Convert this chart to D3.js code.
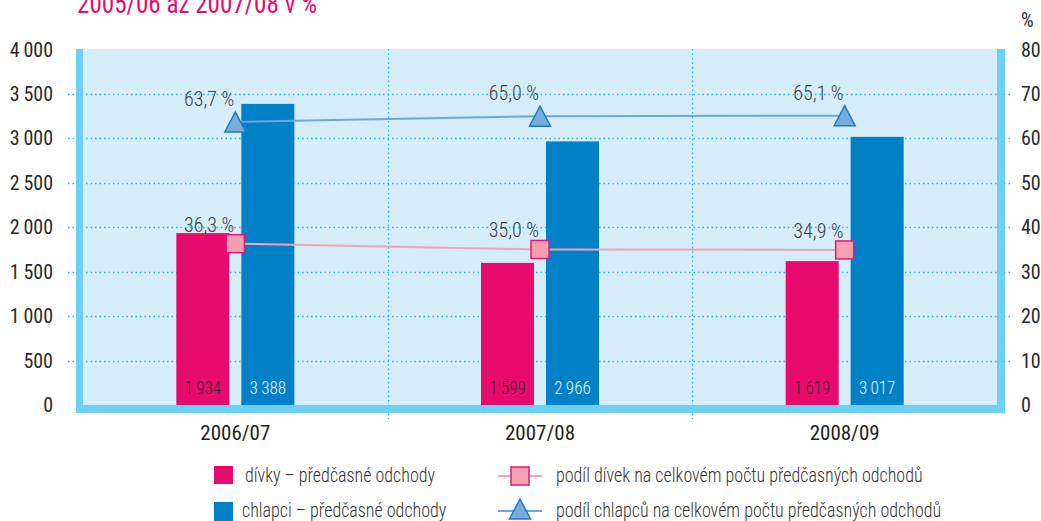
<!DOCTYPE html>
<html><head><meta charset="utf-8">
<script src="https://cdn.jsdelivr.net/npm/d3@7"></script>
<style>
html,body{margin:0;padding:0;background:#fff;}
svg{display:block;}
text{font-family:"Roboto Condensed","Liberation Sans Narrow",sans-serif;}
text.light{font-weight:300;}
</style></head>
<body>
<svg id="chart" width="1041" height="521"></svg>
<script>
const categories = ["2006/07", "2007/08", "2008/09"];
const girlsCount = [1934, 1599, 1619];
const boysCount = [3388, 2966, 3017];
const girlsShare = [36.3, 35.0, 34.9];
const boysShare = [63.7, 65.0, 65.1];
const leftTicks = [0, 500, 1000, 1500, 2000, 2500, 3000, 3500, 4000];
const rightTicks = [0, 10, 20, 30, 40, 50, 60, 70, 80];
const titleText = "2005/06 až 2007/08 v %";
const legendLabels = ["dívky – předčasné odchody", "chlapci – předčasné odchody",
  "podíl dívek na celkovém počtu předčasných odchodů", "podíl chlapců na celkovém počtu předčasných odchodů"];

const svg = d3.select("#chart");
const C = {pink:"#e90a6e", blue:"#0080c6", bg:"#d5ecf9", wall:"#6dcff6", grid:"#2bb5e6",
  pinkLine:"#f4a3b5", blueLine:"#6fa6da", sqFill:"#f59fb0", sqStroke:"#e3187a", triFill:"#78acdc", triStroke:"#1a7cc2"};

const x0 = 83, x1 = 997, yTop = 49.5, yZero = 405;
const x = d3.scaleBand().domain(categories).range([x0, x1]).padding(0);
const xs = d3.scaleBand().domain(["g","b"]).range([-59, 59]).paddingInner(0.1846).paddingOuter(0);
const y = d3.scaleLinear().domain([0, 4000]).range([yZero, yTop]);
const y2 = d3.scaleLinear().domain([0, 80]).range([yZero, yTop]);
const cx = c => x(c) + x.bandwidth()/2;
const fmt = v => d3.format(",")(v).replace(/,/g, "\u2009");
const fmtP = v => d3.format(".1f")(v).replace(".", ",") + " %";

// title
svg.append("text").attr("transform", "translate(77,13) scale(0.93,1)").attr("fill", C.pink)
  .attr("font-size", 27).text(titleText);

// background
svg.append("rect").attr("x", 76).attr("y", 49).attr("width", 1005-76).attr("height", 413-49).attr("fill", C.bg);

// horizontal grid
svg.append("g").selectAll("line").data(leftTicks.filter(t => t > 0 && t < 4000)).join("line")
  .attr("x1", 68).attr("x2", 1013).attr("y1", d => Math.round(y(d))+0.5).attr("y2", d => Math.round(y(d))+0.5)
  .attr("stroke", C.grid).attr("stroke-width", 1.3).attr("stroke-dasharray", "1.5,3");

// vertical separators
svg.append("g").selectAll("line").data(categories.slice(1)).join("line")
  .attr("x1", d => Math.round(x(d))+0.5).attr("x2", d => Math.round(x(d))+0.5)
  .attr("y1", 49).attr("y2", 419)
  .attr("stroke", C.grid).attr("stroke-width", 1.3).attr("stroke-dasharray", "1.5,3");

// walls
svg.append("rect").attr("x", 76).attr("y", 49).attr("width", 7).attr("height", 413-49).attr("fill", C.wall);
svg.append("rect").attr("x", 997).attr("y", 49).attr("width", 8).attr("height", 413-49).attr("fill", C.wall);
svg.append("rect").attr("x", 76).attr("y", 405).attr("width", 1005-76).attr("height", 8).attr("fill", C.wall);

// bars
const gBars = svg.append("g");
gBars.selectAll("rect.g").data(categories).join("rect").attr("class","g")
  .attr("x", (d) => cx(d) + xs("g")).attr("width", xs.bandwidth())
  .attr("y", (d,i) => y(girlsCount[i])).attr("height", (d,i) => yZero - y(girlsCount[i]))
  .attr("fill", C.pink);
gBars.selectAll("rect.b").data(categories).join("rect").attr("class","b")
  .attr("x", (d) => cx(d) + xs("b")).attr("width", xs.bandwidth())
  .attr("y", (d,i) => y(boysCount[i])).attr("height", (d,i) => yZero - y(boysCount[i]))
  .attr("fill", C.blue);
// bar labels
gBars.selectAll("text.gl").data(categories).join("text").attr("class","light gl")
  .attr("transform", d => `translate(${cx(d) + xs("g") + xs.bandwidth()/2},394) scale(0.9,1)`)
  .attr("text-anchor", "middle").attr("font-size", 19).attr("fill", "#3b2431")
  .text((d,i) => fmt(girlsCount[i]));
gBars.selectAll("text.bl").data(categories).join("text").attr("class","light bl")
  .attr("transform", d => `translate(${cx(d) + xs("b") + xs.bandwidth()/2},394) scale(0.9,1)`)
  .attr("text-anchor", "middle").attr("font-size", 19).attr("fill", "#e6f3fb")
  .text((d,i) => fmt(boysCount[i]));

// lines
const line = d3.line().x(d => cx(d[0])).y(d => y2(d[1]));
svg.append("path").datum(categories.map((c,i) => [c, girlsShare[i]])).attr("d", line)
  .attr("fill", "none").attr("stroke", C.pinkLine).attr("stroke-width", 2);
svg.append("path").datum(categories.map((c,i) => [c, boysShare[i]])).attr("d", line)
  .attr("fill", "none").attr("stroke", C.blueLine).attr("stroke-width", 2);

const sqSize = 18;
function square(g, px, py) {
  g.append("rect").attr("x", px - sqSize/2).attr("y", py - sqSize/2).attr("width", sqSize).attr("height", sqSize)
    .attr("fill", C.sqFill).attr("stroke", C.sqStroke).attr("stroke-width", 1.5);
}
function tri(g, px, py) {
  const w = 21, h = 20;
  g.append("path").attr("d", `M${px},${py-h/2}L${px+w/2},${py+h/2}L${px-w/2},${py+h/2}Z`)
    .attr("fill", C.triFill).attr("stroke", C.triStroke).attr("stroke-width", 1.5).attr("stroke-linejoin","miter");
}
const gM = svg.append("g");
categories.forEach((c,i) => {
  square(gM, cx(c), y2(girlsShare[i]));
  tri(gM, cx(c), y2(boysShare[i]));
});
// share labels
svg.append("g").selectAll("text").data(categories).join("text").attr("class", "light")
  .attr("x", d => cx(d) - 1).attr("y", (d,i) => y2(girlsShare[i]) - 12)
  .attr("text-anchor", "end").attr("font-size", 20).attr("fill", "#3f3f3f")
  .text((d,i) => fmtP(girlsShare[i]));
svg.append("g").selectAll("text").data(categories).join("text").attr("class", "light")
  .attr("x", d => cx(d) - 1).attr("y", (d,i) => y2(boysShare[i]) - 16)
  .attr("text-anchor", "end").attr("font-size", 20).attr("fill", "#3f3f3f")
  .text((d,i) => fmtP(boysShare[i]));

// left axis labels
svg.append("g").selectAll("text").data(leftTicks).join("text")
  .attr("x", 53).attr("y", d => y(d) + 7).attr("text-anchor", "end")
  .attr("font-size", 20).attr("fill", "#2a2a2a").text(d => fmt(d));
// right axis labels
svg.append("g").selectAll("text").data(rightTicks).join("text")
  .attr("x", 1021).attr("y", d => y2(d) + 7).attr("text-anchor", "start")
  .attr("font-size", 20).attr("fill", "#2a2a2a").text(d => d);
svg.append("text").attr("x", 1021).attr("y", 27).attr("font-size", 20).attr("fill", "#2a2a2a").text("%");

// category labels
svg.append("g").selectAll("text").data(categories).join("text")
  .attr("x", d => cx(d)).attr("y", 440).attr("text-anchor", "middle")
  .attr("font-size", 21).attr("fill", "#222").text(d => d);

// legend
const lg = svg.append("g");
lg.append("rect").attr("x", 214).attr("y", 466).attr("width", 19).attr("height", 18).attr("fill", C.pink);
lg.append("rect").attr("x", 214).attr("y", 502).attr("width", 19).attr("height", 19).attr("fill", C.blue);
const legText = (tx, ty, s) => lg.append("text").attr("class", "light").attr("transform", `translate(${tx},${ty}) scale(0.9,1)`)
  .attr("font-size", 20).attr("fill", "#333").text(s);
legText(245, 482, legendLabels[0]);
legText(242, 517, legendLabels[1]);
lg.append("line").attr("x1", 498).attr("x2", 542).attr("y1", 476).attr("y2", 476).attr("stroke", C.pinkLine).attr("stroke-width", 2);
lg.append("line").attr("x1", 498).attr("x2", 542).attr("y1", 511).attr("y2", 511).attr("stroke", C.blueLine).attr("stroke-width", 2);
square(lg, 520, 476);
tri(lg, 520, 509);
legText(556, 482, legendLabels[2]);
legText(556, 517, legendLabels[3]);
</script>
</body></html>
